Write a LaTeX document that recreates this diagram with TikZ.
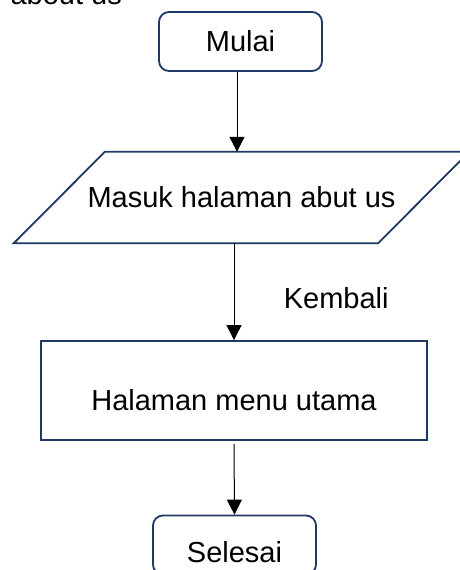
\documentclass[tikz,border=0pt]{standalone}
\usepackage{fontspec}
\setmainfont{Liberation Sans}
\usetikzlibrary{arrows.meta}
\definecolor{boxblue}{RGB}{31,56,100}

\begin{document}
\begin{tikzpicture}[x=1pt,y=1pt,
	font=\fontsize{29}{35}\selectfont,
	terminal/.style={draw=boxblue,line width=1.8pt,rounded corners=10pt,minimum width=163pt,minimum height=59pt},
	io/.style={minimum width=455pt,minimum height=91pt,inner sep=0pt},
	process/.style={draw=boxblue,line width=1.8pt,minimum width=386pt,minimum height=99pt},
	flow/.style={line width=1pt,-{Triangle[length=15pt,width=15pt]}}]
	\useasboundingbox (0,0) rectangle (459,-570);
	\node[inner sep=0pt,anchor=base east] (title) at (122,-5) {about us};
	%
	\node[terminal] (v1) at (240.5,-41.5) {Mulai};
	\node[io] (v2) at (241.5,-197.5) {Masuk halaman abut us};
	\draw[boxblue,line width=1.8pt] (v2.south west) -- ([xshift=-91pt]v2.south east)
		-- (v2.north east) -- ([xshift=91pt]v2.north west) -- cycle;
	\node[process,text height=39pt,text depth=0pt] (v3) at (234,-390.5) {Halaman menu utama};
	\node[terminal,text height=34pt,text depth=0pt] (v4) at (234.5,-545) {Selesai};
	%
	\draw[flow] (v1.south -| 237,0) to (237,0 |- v2.north);
	\draw[flow] (v2.south -| v3.north) to node[pos=0.57,anchor=west,xshift=46pt] (v5) {Kembali} (v3.north);
	\draw[flow] ([yshift=-3pt]v3.south) to (v4.north);
\end{tikzpicture}
\end{document}
